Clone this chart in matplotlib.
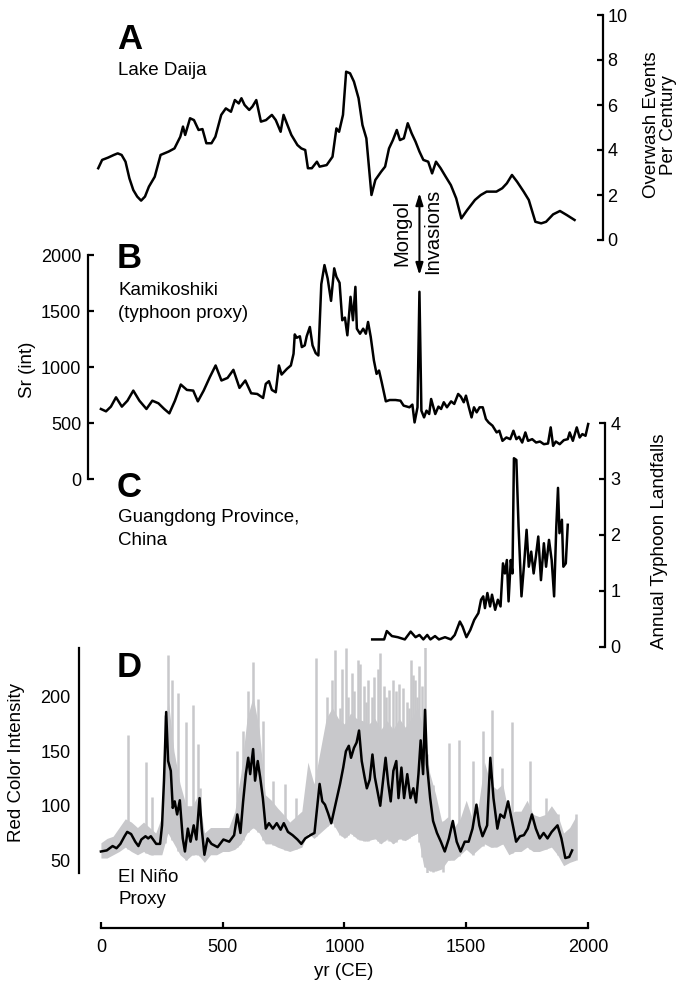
import numpy as np
import matplotlib
matplotlib.use("Agg")
import matplotlib.pyplot as plt

plt.rcParams["font.family"] = ["Liberation Sans", "DejaVu Sans"]

# ---------------------------------------------------------------- data
# A: Lake Daija overwash events per century
a_years = [-11, 5, 29, 53, 69, 85, 101, 117, 133, 149, 165, 181, 197, 221, 245,
           278, 302, 326, 337, 346, 366, 382, 401, 417, 433, 454, 470, 494, 513,
           534, 550, 566, 577, 590, 609, 622, 638, 657, 678, 702, 718, 738, 750,
           766, 782, 807, 823, 839, 850, 866, 887, 898, 927, 951, 967, 978, 994,
           1007, 1023, 1039, 1058, 1074, 1090, 1111, 1127, 1151, 1167, 1183, 1199,
           1215, 1228, 1244, 1260, 1276, 1292, 1308, 1324, 1344, 1360, 1376, 1395,
           1416, 1437, 1459, 1480, 1504, 1536, 1560, 1584, 1624, 1648, 1667, 1688,
           1709, 1736, 1757, 1784, 1808, 1828, 1857, 1885, 1913, 1945]
a_vals = [3.19, 3.56, 3.66, 3.78, 3.85, 3.78, 3.48, 2.74, 2.22, 1.93, 1.75, 1.93,
          2.37, 2.81, 3.78, 3.93, 4.07, 4.59, 5.04, 4.67, 5.41, 5.33, 4.89, 4.93,
          4.30, 4.30, 4.59, 5.56, 5.85, 5.70, 6.22, 6.07, 6.30, 6.00, 5.78, 5.93,
          6.22, 5.26, 5.33, 5.56, 5.33, 4.81, 5.56, 5.11, 4.67, 4.22, 4.07, 4.00,
          3.19, 3.19, 3.48, 3.26, 3.33, 3.70, 4.96, 4.81, 5.56, 7.48, 7.41, 7.04,
          6.30, 5.11, 4.52, 2.00, 2.67, 3.04, 3.26, 4.07, 4.44, 4.89, 4.44, 4.52,
          5.19, 4.74, 4.37, 3.93, 3.56, 3.48, 2.96, 3.48, 3.19, 2.81, 2.44, 1.85,
          0.96, 1.33, 1.78, 2.00, 2.15, 2.15, 2.30, 2.52, 2.89, 2.59, 2.15, 1.78,
          0.81, 0.74, 0.81, 1.14, 1.29, 1.11, 0.89]

# B: Kamikoshiki Sr (int)
b_years = [0, 21, 41, 62, 86, 109, 133, 158, 187, 211, 236, 260, 281, 304, 328,
           353, 379, 398, 422, 447, 471, 495, 520, 544, 569, 593, 617, 642, 666,
           677, 690, 702, 718, 731, 742, 764, 780, 791, 796, 804, 817, 825, 837,
           845, 858, 869, 882, 893, 905, 918, 931, 945, 958, 967, 980, 991, 1002,
           1012, 1025, 1035, 1045, 1051, 1064, 1077, 1088, 1097, 1108, 1121, 1132,
           1142, 1153, 1170, 1186, 1210, 1230, 1243, 1267, 1279, 1288, 1300, 1308,
           1316, 1327, 1337, 1348, 1356, 1373, 1386, 1397, 1408, 1421, 1438, 1451,
           1467, 1478, 1490, 1499, 1511, 1522, 1532, 1543, 1555, 1568, 1581, 1592,
           1608, 1625, 1636, 1649, 1665, 1681, 1694, 1706, 1717, 1730, 1743, 1754,
           1771, 1787, 1803, 1819, 1836, 1847, 1857, 1868, 1884, 1901, 1917, 1925,
           1938, 1954, 1966, 1977, 1990, 2001]
b_vals = [627, 606, 648, 731, 648, 701, 791, 701, 627, 701, 678, 627, 588, 701,
          845, 797, 791, 695, 791, 910, 1015, 881, 904, 976, 815, 881, 767, 761,
          725, 851, 875, 797, 776, 1015, 934, 985, 1015, 1119, 1292, 1262, 1275,
          1179, 1194, 1275, 1358, 1194, 1125, 1104, 1740, 1910, 1791, 1591, 1881,
          1806, 1752, 1418, 1442, 1284, 1627, 1418, 1716, 1343, 1298, 1343, 1298,
          1403, 1269, 1060, 940, 970, 866, 695, 707, 707, 701, 657, 642, 666, 507,
          642, 1672, 612, 552, 612, 582, 716, 582, 648, 627, 687, 642, 695, 672,
          761, 737, 687, 746, 642, 552, 642, 597, 642, 642, 537, 507, 478, 418,
          433, 343, 373, 358, 433, 358, 379, 328, 418, 343, 358, 328, 337, 313,
          319, 463, 298, 337, 313, 349, 358, 418, 343, 463, 373, 403, 388, 493]

# C: Guangdong annual typhoon landfalls
c_years = [1114, 1163, 1174, 1195, 1219, 1248, 1272, 1292, 1308, 1324, 1340, 1353,
           1372, 1388, 1413, 1437, 1453, 1474, 1485, 1501, 1517, 1533, 1550, 1561,
           1570, 1577, 1587, 1598, 1606, 1619, 1630, 1641, 1651, 1659, 1667, 1674,
           1683, 1690, 1696, 1706, 1715, 1727, 1738, 1748, 1757, 1767, 1777, 1786,
           1796, 1807, 1819, 1828, 1840, 1851, 1861, 1870, 1877, 1883, 1893, 1899,
           1909, 1917]
c_vals = [0.13, 0.13, 0.28, 0.19, 0.17, 0.13, 0.27, 0.17, 0.21, 0.13, 0.21, 0.13,
          0.19, 0.13, 0.17, 0.13, 0.21, 0.45, 0.36, 0.17, 0.30, 0.48, 0.60, 0.84,
          0.90, 0.69, 0.96, 0.72, 0.93, 0.66, 0.84, 0.72, 1.49, 1.31, 1.55, 0.81,
          1.55, 1.31, 3.37, 3.34, 2.15, 0.90, 1.49, 2.09, 1.43, 1.70, 1.31, 1.61,
          1.97, 1.19, 1.85, 1.43, 1.91, 1.55, 0.90, 2.15, 2.84, 2.03, 2.27, 1.43,
          1.49, 2.18]

# D: El Nino proxy, red colour intensity (smoothed, black)
d_years = [0, 24, 48, 64, 80, 97, 108, 124, 141, 154, 166, 183, 194, 205, 227,
           243, 251, 259, 268, 276, 287, 295, 303, 313, 324, 336, 345, 357, 368,
           381, 392, 405, 414, 425, 438, 454, 479, 503, 527, 547, 560, 573, 584,
           595, 605, 613, 625, 633, 644, 654, 665, 677, 690, 706, 722, 738, 751,
           768, 787, 807, 823, 839, 860, 877, 885, 898, 909, 920, 933, 946, 957,
           969, 982, 995, 1006, 1018, 1027, 1039, 1050, 1060, 1071, 1083, 1092,
           1104, 1115, 1125, 1136, 1147, 1157, 1169, 1180, 1190, 1201, 1213, 1222,
           1234, 1245, 1258, 1271, 1283, 1294, 1304, 1313, 1323, 1331, 1339, 1352,
           1364, 1380, 1396, 1412, 1429, 1445, 1461, 1477, 1494, 1510, 1526, 1542,
           1554, 1567, 1586, 1599, 1612, 1628, 1640, 1656, 1672, 1688, 1705, 1721,
           1737, 1753, 1770, 1786, 1802, 1818, 1834, 1851, 1875, 1891, 1907, 1923,
           1935]
d_vals = [58, 59, 63, 61, 65, 72, 76, 74, 67, 63, 69, 72, 70, 72, 65, 65, 82, 123,
          186, 141, 132, 98, 104, 92, 105, 70, 58, 79, 67, 82, 69, 107, 79, 55, 70,
          65, 62, 69, 67, 73, 92, 75, 104, 129, 144, 129, 152, 123, 141, 126, 107,
          79, 84, 79, 84, 78, 84, 76, 73, 69, 65, 70, 73, 75, 92, 120, 104, 101, 93,
          84, 95, 107, 120, 135, 150, 155, 144, 153, 158, 169, 141, 126, 116, 124,
          147, 126, 113, 100, 120, 144, 120, 104, 132, 141, 107, 135, 107, 129, 107,
          116, 103, 129, 160, 129, 188, 138, 107, 86, 75, 67, 58, 70, 86, 67, 58,
          67, 67, 79, 101, 82, 72, 82, 144, 107, 79, 92, 89, 104, 86, 67, 72, 73,
          79, 92, 79, 70, 75, 70, 76, 82, 70, 52, 53, 59]

# D: raw record (grey) - envelope every 25 yr plus individual spikes
g_years = list(range(0, 1951, 25))
g_lo = [52, 52, 55, 58, 62, 58, 55, 58, 55, 55, 55, 75, 65, 55, 50, 55, 55, 48,
        55, 55, 58, 58, 60, 65, 75, 80, 75, 65, 65, 62, 60, 58, 60, 62, 75, 70,
        75, 80, 85, 75, 70, 75, 70, 68, 68, 70, 65, 70, 65, 70, 68, 72, 75, 45,
        40, 40, 42, 50, 50, 55, 60, 55, 60, 65, 62, 62, 65, 55, 58, 58, 62, 58,
        58, 60, 62, 55, 45, 48, 50]
g_hi = [66, 70, 72, 80, 88, 85, 80, 85, 80, 75, 90, 200, 150, 120, 100, 100, 110,
        75, 80, 80, 80, 80, 95, 130, 180, 200, 170, 110, 105, 98, 92, 85, 90, 95,
        140, 120, 150, 180, 190, 180, 175, 185, 180, 178, 175, 180, 170, 178, 170,
        180, 172, 180, 190, 170, 130, 110, 85, 90, 80, 88, 105, 88, 100, 140, 120,
        115, 120, 92, 95, 95, 105, 92, 90, 92, 100, 92, 75, 80, 90]
spike_years = [111, 185, 210, 263, 275, 292, 316, 349, 378, 399, 405, 560, 584,
               605, 625, 644, 665, 706, 755, 800, 885, 930, 941, 950, 962, 982,
               990, 1006, 1015, 1031, 1040, 1055, 1065, 1080, 1088, 1096, 1113,
               1120, 1137, 1145, 1161, 1170, 1185, 1198, 1210, 1226, 1240, 1258,
               1265, 1274, 1283, 1290, 1298, 1307, 1318, 1331, 1429, 1469, 1526,
               1567, 1607, 1648, 1689, 1762, 1827, 1875, 1949]
spike_tops = [165, 140, 108, 183, 238, 215, 203, 177, 192, 157, 116, 150, 169,
              205, 232, 198, 178, 123, 120, 107, 236, 200, 178, 215, 243, 190,
              225, 245, 200, 222, 205, 234, 230, 210, 195, 215, 200, 218, 225,
              240, 210, 200, 206, 215, 205, 212, 208, 195, 190, 234, 220, 215,
              200, 228, 210, 246, 158, 160, 141, 169, 188, 135, 177, 141, 107, 92,
              92]
dip_years = [1339, 1364, 1404]
dip_bottoms = [36, 39, 39]

xticks = [0, 500, 1000, 1500, 2000]

# ---------------------------------------------------------------- layout
W, H = 694, 982
fig = plt.figure(figsize=(W / 100, H / 100), dpi=100)


def fx(px):
    return px / W


def fy(py):
    return 1 - py / H


def panel(top, bottom):
    ax = fig.add_axes([fx(79), fy(bottom), fx(605) - fx(79), (bottom - top) / H])
    ax.set_xlim(-90, 2070)
    ax.patch.set_visible(False)
    for s in ax.spines.values():
        s.set_visible(False)
        s.set_linewidth(1.6)
    ax.set_xticks([])
    return ax


FS = 13.5   # labels
TS = 13     # tick labels
LW = 1.8

# A
ax_a = panel(15, 240)
ax_a.plot(a_years, a_vals, color="black", lw=LW)
ax_a.set_ylim(0, 10)
ax_a.spines["right"].set_visible(True)
ax_a.spines["right"].set_position(("data", 2063))
ax_a.yaxis.tick_right()
ax_a.set_yticks([0, 2, 4, 6, 8, 10])
ax_a.tick_params(axis="y", direction="in", length=4, width=1.6, pad=3, labelsize=TS)

# B
ax_b = panel(255, 479.3)
ax_b.plot(b_years, b_vals, color="black", lw=LW)
ax_b.set_ylim(0, 2000)
ax_b.spines["left"].set_visible(True)
ax_b.spines["left"].set_position(("data", -52))
ax_b.set_yticks([0, 500, 1000, 1500, 2000])
ax_b.tick_params(axis="y", direction="in", length=4, width=1.6, pad=5, labelsize=TS)

# C
ax_c = panel(423, 646.7)
ax_c.plot(c_years, c_vals, color="black", lw=LW)
ax_c.set_ylim(0, 4)
ax_c.spines["right"].set_visible(True)
ax_c.yaxis.tick_right()
ax_c.set_yticks([0, 1, 2, 3, 4])
ax_c.tick_params(axis="y", direction="in", length=4, width=1.6, pad=4, labelsize=TS)

# D
ax_d = panel(647.7, 873.3)
grey = "#c8c8cb"
ax_d.fill_between(g_years, g_lo, g_hi, color=grey, lw=0)
ax_d.vlines(spike_years, np.interp(spike_years, g_years, g_lo), spike_tops,
            color=grey, lw=1.8)
ax_d.vlines(dip_years, dip_bottoms, np.interp(dip_years, g_years, g_hi),
            color=grey, lw=1.8)
ax_d.plot(d_years, d_vals, color="black", lw=LW)
ax_d.set_ylim(38, 245)
ax_d.spines["left"].set_visible(True)
ax_d.set_yticks([50, 100, 150, 200])
ax_d.tick_params(axis="y", length=0, pad=6, labelsize=TS)
ax_d.spines["bottom"].set_visible(True)
ax_d.spines["bottom"].set_position(("outward", 39.4))
ax_d.spines["bottom"].set_bounds(0, 2000)
ax_d.set_xticks(xticks)
ax_d.tick_params(axis="x", direction="in", length=4, width=1.6, pad=8, labelsize=TS)

# ---------------------------------------------------------------- texts
for letter, x, y in [("A", 117, 49), ("B", 117, 268), ("C", 117, 497), ("D", 117, 677)]:
    fig.text(fx(x), fy(y), letter, fontsize=25, fontweight="bold", va="baseline")

for label, x, y in [("Lake Daija", 118, 75), ("Kamikoshiki", 118, 295),
                    ("(typhoon proxy)", 118, 318), ("Guangdong Province,", 118, 522),
                    ("China", 118, 545), ("El Niño", 118, 882), ("Proxy", 118, 904)]:
    fig.text(fx(x), fy(y), label, fontsize=FS, va="baseline")

fig.text(fx(660), fy(125), "Overwash Events\nPer Century", rotation=90, fontsize=FS,
         ha="center", va="center", multialignment="center", linespacing=1.05)
fig.text(fx(27), fy(370), "Sr (int)", rotation=90, fontsize=FS, ha="center", va="center")
fig.text(fx(660), fy(541), "Annual Typhoon Landfalls", rotation=90, fontsize=FS,
         ha="center", va="center")
fig.text(fx(17), fy(762), "Red Color Intensity", rotation=90, fontsize=FS,
         ha="center", va="center")
fig.text(fx(344), fy(972), "yr (CE)", fontsize=FS, ha="center", va="center")

# Mongol invasions arrow
ax_a.annotate("", xy=(1308, 2.09), xytext=(1308, -1.56), xycoords="data",
              annotation_clip=False,
              arrowprops=dict(arrowstyle="<|-|>,head_length=0.7,head_width=0.22",
                              color="black", lw=1.5, shrinkA=0, shrinkB=0))
fig.text(fx(401.7), fy(233), "Mongol", rotation=90, fontsize=14.5, ha="center", va="center")
fig.text(fx(433), fy(231), "Invasions", rotation=90, fontsize=14.5, ha="center", va="center")

fig.savefig("out.png", dpi=100)
